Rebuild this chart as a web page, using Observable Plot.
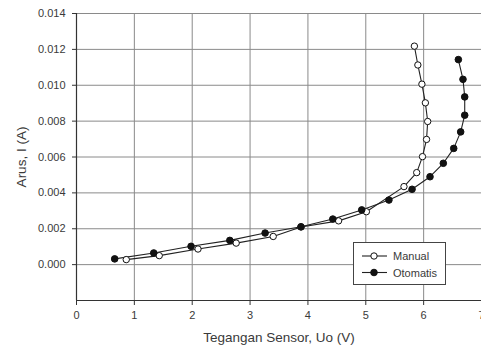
<!DOCTYPE html>
<html>
<head>
<meta charset="utf-8">
<script src="https://cdn.jsdelivr.net/npm/d3@7"></script>
<script src="https://cdn.jsdelivr.net/npm/@observablehq/plot@0.6"></script>
<style>
  html, body { margin: 0; padding: 0; background: #fff; }
  #wrap { position: relative; width: 481px; height: 347px; overflow: hidden; font-family: "Liberation Sans", Arial, sans-serif; }
  #legend { position: absolute; left: 353px; top: 242px; width: 93px; height: 43px; background: #fff; border: 1px solid #444; box-sizing: border-box; }
</style>
</head>
<body>
<div id="wrap"></div>
<script>
// Data
const manualU = [0.86, 1.43, 2.10, 2.76, 3.40, 3.88, 4.53, 5.01, 5.66, 5.88, 5.98, 6.05, 6.07, 6.03, 5.97, 5.90, 5.84];
const manualI = [0.00028, 0.00050, 0.00087, 0.00120, 0.00157, 0.00210, 0.00244, 0.00295, 0.00435, 0.00513, 0.00602, 0.00698, 0.00798, 0.00902, 0.01006, 0.01113, 0.01218];
const otomatisU = [0.66, 1.335, 1.98, 2.65, 3.26, 3.88, 4.43, 4.93, 5.40, 5.80, 6.11, 6.34, 6.52, 6.64, 6.71, 6.71, 6.68, 6.60];
const otomatisI = [0.00032, 0.00065, 0.00102, 0.00135, 0.00176, 0.00211, 0.00254, 0.00305, 0.00360, 0.00420, 0.00490, 0.00565, 0.00648, 0.00740, 0.00833, 0.00935, 0.01033, 0.01143];
const xTicks = [0, 1, 2, 3, 4, 5, 6, 7];
const yTicks = [0, 0.002, 0.004, 0.006, 0.008, 0.010, 0.012, 0.014];
const seriesNames = ["Manual", "Otomatis"];
const xTitle = "Tegangan Sensor, Uo (V)";
const yTitle = "Arus, I (A)";

const manual = manualU.map((u, i) => ({u, i: manualI[i]}));
const otomatis = otomatisU.map((u, i) => ({u, i: otomatisI[i]}));

const font = "Liberation Sans, Arial, sans-serif";
const textColor = "#3a3a3a";

const chart = Plot.plot({
  width: 481,
  height: 347,
  marginLeft: 76,
  marginRight: 0,
  marginTop: 13,
  marginBottom: 47,
  style: {fontFamily: font, fontSize: "11px", color: textColor, background: "#fff", overflow: "visible"},
  x: {domain: [0, 7]},
  y: {domain: [-0.002, 0.014]},
  marks: [
    Plot.gridX(xTicks.slice(1, 7), {stroke: "#8a8a8a", strokeOpacity: 1, strokeWidth: 1}),
    Plot.gridY(yTicks, {stroke: "#8a8a8a", strokeOpacity: 1, strokeWidth: 1}),
    Plot.ruleX([0], {stroke: "#333", strokeWidth: 1.2}),
    Plot.ruleY([-0.002], {stroke: "#333", strokeWidth: 1.2}),
    Plot.axisX(xTicks, {tickSize: 5, tickPadding: 6, label: null, stroke: "#333", fill: textColor, fontSize: 11}),
    Plot.axisY(yTicks, {tickSize: 4, tickPadding: 7, label: null, tickFormat: d3.format(".3f"), stroke: "#333", fill: textColor, fontSize: 11}),
    Plot.line(manual, {x: "u", y: "i", stroke: "#222", strokeWidth: 1.1}),
    Plot.line(otomatis, {x: "u", y: "i", stroke: "#222", strokeWidth: 1.1}),
    Plot.dot(manual, {x: "u", y: "i", r: 3.2, fill: "#fff", stroke: "#111", strokeWidth: 1}),
    Plot.dot(otomatis, {x: "u", y: "i", r: 3.3, fill: "#111", stroke: "#111", strokeWidth: 1})
  ]
});

const svg = d3.select(chart);
svg.append("text")
  .attr("x", 279).attr("y", 342)
  .attr("text-anchor", "middle")
  .attr("font-family", font).attr("font-size", 13.5).attr("fill", textColor)
  .text(xTitle);
svg.append("text")
  .attr("transform", "translate(26,157) rotate(-90)")
  .attr("text-anchor", "middle")
  .attr("font-family", font).attr("font-size", 13.5).attr("fill", textColor)
  .text(yTitle);

const wrap = document.getElementById("wrap");
wrap.appendChild(chart);

// Legend
const legend = document.createElement("div");
legend.id = "legend";
const lsvg = d3.select(legend).append("svg").attr("width", 91).attr("height", 41);
seriesNames.forEach((name, k) => {
  const y = 13 + k * 16.5;
  lsvg.append("line").attr("x1", 8).attr("x2", 33).attr("y1", y).attr("y2", y).attr("stroke", "#222").attr("stroke-width", 1.1);
  lsvg.append("circle").attr("cx", 20).attr("cy", y).attr("r", k === 0 ? 3.2 : 3.3)
    .attr("fill", k === 0 ? "#fff" : "#111").attr("stroke", "#111");
  lsvg.append("text").attr("x", 39).attr("y", y + 4).attr("font-family", font).attr("font-size", 11).attr("fill", textColor).text(name);
});
wrap.appendChild(legend);
</script>
</body>
</html>
